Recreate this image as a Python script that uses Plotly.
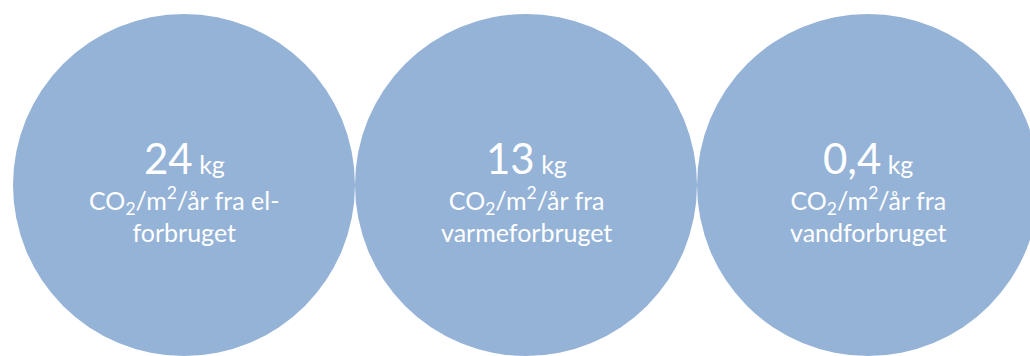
import plotly.graph_objects as go

# CO2 per m2 per year, by consumption type
values = ["24", "13", "0,4"]
unit = "kg"
descriptions = [
    "CO<sub>2</sub>/m<sup>2</sup>/år fra el-<br>forbruget",
    "CO<sub>2</sub>/m<sup>2</sup>/år fra<br>varmeforbruget",
    "CO<sub>2</sub>/m<sup>2</sup>/år fra<br>vandforbruget",
]

W, H = 1030, 356
circle_color = "#95B3D7"
font_family = "Lato, 'Open Sans', sans-serif"

radius = 171
spacing = 342
first_cx = 184
cy = 185

fig = go.Figure()

shapes = []
annotations = []
for i, (val, desc) in enumerate(zip(values, descriptions)):
    cx = first_cx + i * spacing
    shapes.append(dict(
        type="circle", xref="x", yref="y",
        x0=cx - radius, x1=cx + radius, y0=cy - radius, y1=cy + radius,
        fillcolor=circle_color, line=dict(width=0), layer="below",
    ))
    annotations.append(dict(
        x=cx, y=183, xref="x", yref="y", showarrow=False,
        text=f"{val}<span style='font-size:25px'> {unit}</span>",
        font=dict(family=font_family, size=42, color="white"),
        xanchor="center", yanchor="bottom", align="center",
        borderpad=0, borderwidth=0,
    ))
    annotations.append(dict(
        x=cx, y=214.5, xref="x", yref="y", showarrow=False,
        text=desc,
        font=dict(family=font_family, size=25, color="white"),
        xanchor="center", yanchor="middle", align="center",
        borderpad=0, borderwidth=0,
    ))

fig.update_layout(
    width=W, height=H,
    margin=dict(l=0, r=0, t=0, b=0),
    paper_bgcolor="white", plot_bgcolor="white",
    xaxis=dict(range=[0, W], visible=False, fixedrange=True),
    yaxis=dict(range=[H, 0], visible=False, fixedrange=True),
    shapes=shapes, annotations=annotations,
    showlegend=False,
)

fig.write_html("out.html")
